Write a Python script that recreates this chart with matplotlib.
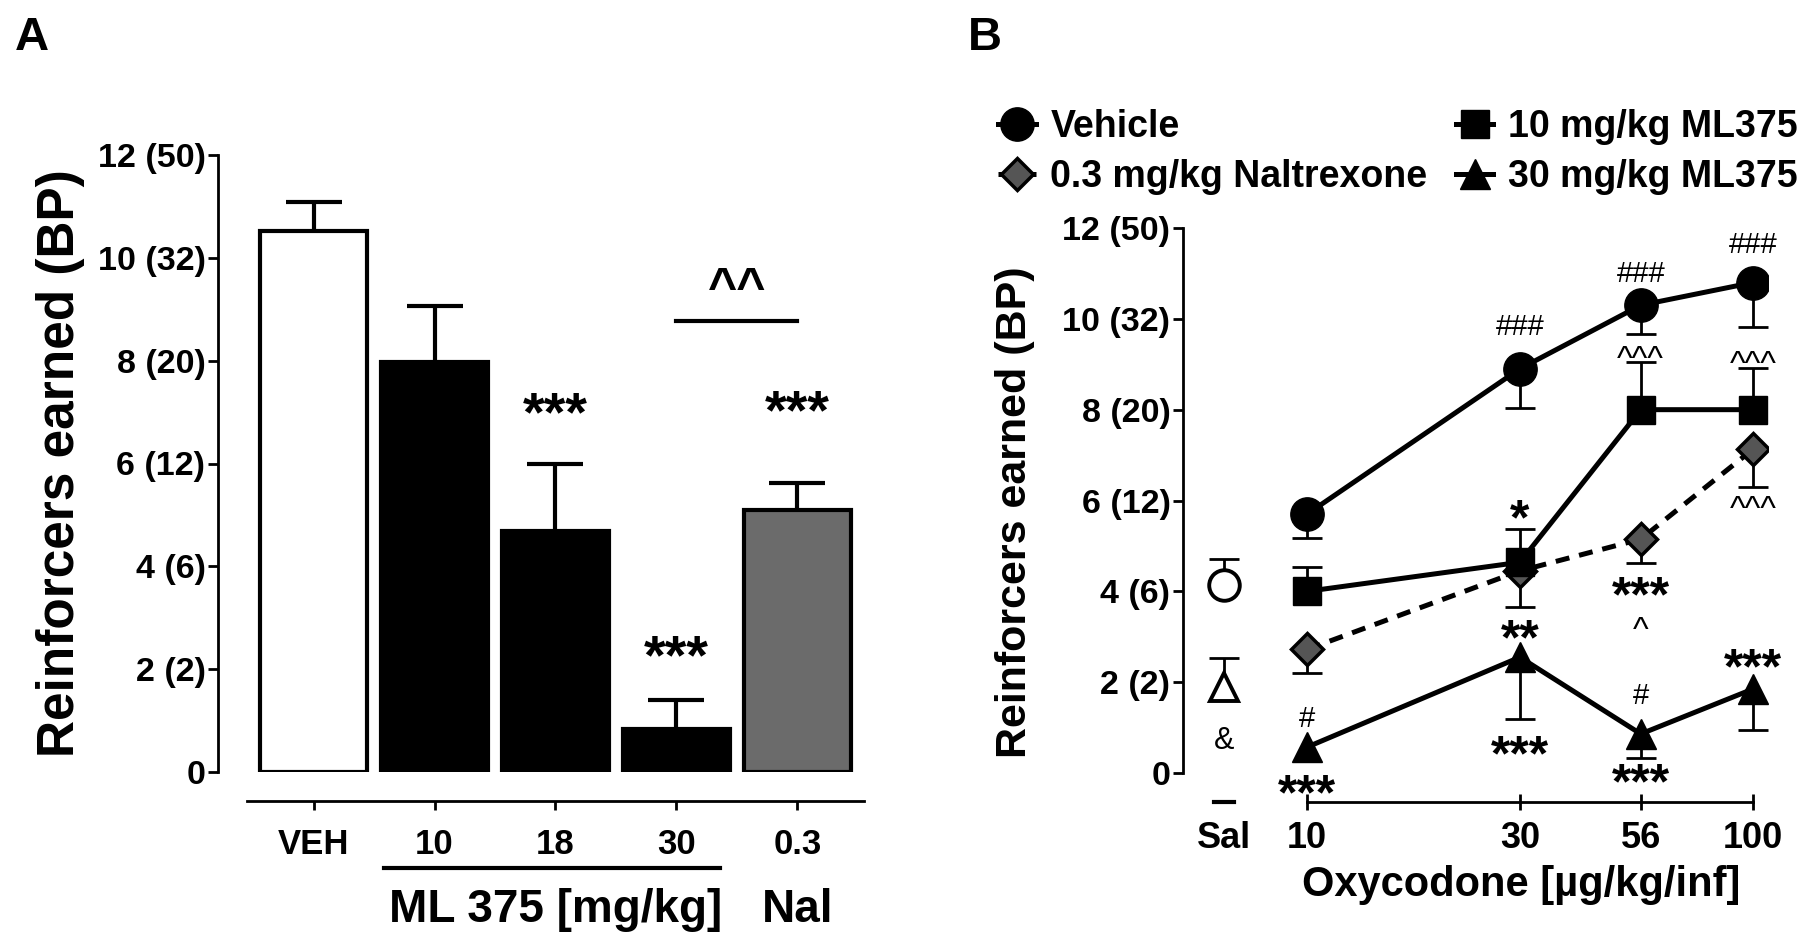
import numpy as np
import matplotlib
matplotlib.use('Agg')
import matplotlib.pyplot as plt

plt.rcParams['font.family'] = ['Liberation Sans', 'DejaVu Sans']
plt.rcParams['font.weight'] = 'bold'
plt.rcParams['axes.labelweight'] = 'bold'

# ---- panel A data: reinforcers earned, oxycodone self-admin after pretreatment
groups = ['VEH', '10', '18', '30', '0.3']
bar_mean = [10.53, 7.98, 4.68, 0.84, 5.10]
bar_sem = [0.56, 1.09, 1.32, 0.56, 0.52]
bar_face = ['white', 'black', 'black', 'black', '#6b6b6b']

ytick_vals = [0, 2, 4, 6, 8, 10, 12]
ytick_text = ['0', '2 (2)', '4 (6)', '6 (12)', '8 (20)', '10 (32)', '12 (50)']

# ---- panel B data: dose response
oxy_dose = [10, 30, 56, 100]
sal_x = 6.5
veh_mean = [5.70, 8.90, 10.30, 10.80]
veh_sem = [0.52, 0.87, 0.63, 0.99]
ml10_mean = [4.00, 4.64, 8.00, 8.00]
ml10_sem = [0.53, 0.74, 1.06, 0.91]
nal_mean = [2.72, 4.45, 5.15, 7.13]
nal_sem = [0.52, 0.80, 0.53, 0.84]
ml30_mean = [0.57, 2.55, 0.86, 1.85]
ml30_sem = [0.0, 1.35, 0.53, 0.90]
sal_veh_mean, sal_veh_sem = 4.14, 0.58
sal_ml30_mean, sal_ml30_sem = 1.89, 0.65

# ink centre of the glyph above the baseline, in em
LIFT = {'*': 0.45, '#': 0.35, '^': 0.53, '&': 0.36}


def sem_bars(ax, x, y, err, sign, cap, lw):
    # one sided error bars (only up or only down), like prism draws them
    x = np.asarray(x, float)
    y = np.asarray(y, float)
    err = np.asarray(err, float)
    keep = err > 0
    ends = y + sign * err
    ax.vlines(x[keep], y[keep], ends[keep], colors='k', lw=lw, zorder=1)
    ax.plot(x[keep], ends[keep], ls='none', marker='_', ms=cap, mew=lw,
            color='k', zorder=1)


def mark(ax, x, y, s, size, weight='bold'):
    ax.annotate(s, (x, y), xytext=(0, -LIFT[s[0]] * size),
                textcoords='offset points', ha='center', va='baseline',
                fontsize=size, fontweight=weight, annotation_clip=False)


def style_axis(ax, spine_y):
    ax.spines['top'].set_visible(False)
    ax.spines['right'].set_visible(False)
    ax.spines['left'].set_linewidth(2)
    ax.spines['bottom'].set_linewidth(2)
    ax.spines['bottom'].set_position(('data', spine_y))
    ax.set_ylim(0, 12)
    ax.set_yticks(ytick_vals)
    ax.set_yticklabels(ytick_text)
    ax.tick_params(axis='y', direction='out', length=7, width=2, pad=2,
                   labelsize=24.5)


fig = plt.figure(figsize=(18, 9.4), dpi=100)

# ================= A =================
axA = fig.add_axes([218 / 1800, 1 - 772 / 940, 652 / 1800, 617 / 940])
xa = np.arange(len(groups))
axA.bar(xa, bar_mean, width=0.89, color=bar_face, edgecolor='black',
        linewidth=3, zorder=2)
sem_bars(axA, xa, bar_mean, bar_sem, +1, cap=40, lw=3)
axA.set_xlim(-0.79, 4.6)
style_axis(axA, -0.57)
axA.spines['bottom'].set_bounds(-0.554, 4.554)
axA.set_xticks(xa)
axA.set_xticklabels(groups)
axA.tick_params(axis='x', direction='out', length=6.5, width=2, pad=13,
                labelsize=25)
axA.set_ylabel('Reinforcers earned (BP)', fontsize=37)
axA.yaxis.set_label_coords(-0.204, 0.5)

a_stars = [(2, 7.13), (3, 2.40), (4, 7.17)]
for i, y in a_stars:
    mark(axA, xa[i], y, '***', 40)
axA.plot([xa[3], xa[4]], [8.78, 8.78], color='k', lw=3, clip_on=False)
mark(axA, (xa[3] + xa[4]) / 2, 9.63, '^^', 36)

tr = axA.get_xaxis_transform()
axA.plot([xa[1] - 0.42, xa[3] + 0.36], [-0.156, -0.156], color='k', lw=3,
         transform=tr, clip_on=False)
axA.text(xa[2], -0.224, 'ML 375 [mg/kg]', transform=tr, ha='center',
         va='center', fontsize=33)
axA.text(xa[4], -0.224, 'Nal', transform=tr, ha='center', va='center',
         fontsize=33)

# ================= B =================
axB = fig.add_axes([1183 / 1800, 1 - 773 / 940, 585 / 1800, 545 / 940])
axB.set_xscale('log')
lw_line = 3.6
l_veh, = axB.plot(oxy_dose, veh_mean, '-o', color='k', lw=lw_line, ms=24,
                  zorder=3, label='Vehicle')
l_nal, = axB.plot(oxy_dose, nal_mean, marker='D', color='k', lw=lw_line,
                  ls=(0, (2.8, 2)), ms=16, mfc='#555555', mec='k', mew=2.5,
                  zorder=3, label='0.3 mg/kg Naltrexone')
l_m10, = axB.plot(oxy_dose, ml10_mean, '-s', color='k', lw=lw_line, ms=20,
                  zorder=4, label='10 mg/kg ML375')
l_m30, = axB.plot(oxy_dose, ml30_mean, '-^', color='k', lw=lw_line, ms=21,
                  zorder=4, label='30 mg/kg ML375')

sem_bars(axB, oxy_dose, veh_mean, veh_sem, -1, cap=22, lw=2)
sem_bars(axB, oxy_dose, ml10_mean, ml10_sem, +1, cap=22, lw=2)
sem_bars(axB, oxy_dose, nal_mean, nal_sem, -1, cap=22, lw=2)
sem_bars(axB, oxy_dose, ml30_mean, ml30_sem, -1, cap=22, lw=2)

# saline points
axB.plot([sal_x], [sal_veh_mean], 'o', ms=22, mfc='white', mec='k', mew=2.8,
         zorder=3)
axB.plot([sal_x], [sal_ml30_mean], '^', ms=20, mfc='white', mec='k', mew=2.8,
         zorder=3)
sem_bars(axB, [sal_x, sal_x], [sal_veh_mean, sal_ml30_mean],
         [sal_veh_sem, sal_ml30_sem], +1, cap=22, lw=2)

axB.set_xlim(5.27, 108)
style_axis(axB, -0.64)
axB.spines['bottom'].set_bounds(10, 100)
axB.xaxis.set_minor_locator(matplotlib.ticker.NullLocator())
axB.set_xticks([sal_x] + oxy_dose)
axB.set_xticklabels(['Sal'] + [str(d) for d in oxy_dose])
axB.tick_params(axis='x', direction='inout', length=11, width=2, pad=8,
                labelsize=26)
axB.xaxis.get_major_ticks()[0].tick1line.set_visible(False)
axB.plot([sal_x / 1.053, sal_x * 1.053], [-0.64, -0.64], color='k', lw=3,
         clip_on=False)
axB.set_ylabel('Reinforcers earned (BP)', fontsize=31)
axB.yaxis.set_label_coords(-0.253, 0.479)
axB.set_xlabel('Oxycodone [\u00b5g/kg/inf]', fontsize=30)
axB.xaxis.set_label_coords(0.578, -0.169)

# significance marks
hash_marks = [(30, 9.87, '###'), (56, 11.04, '###'), (100, 11.67, '###'),
              (10, 1.24, '#'), (56, 1.75, '#')]
caret_marks = [(56, 9.28, '^^^'), (100, 9.17, '^^^'), (100, 5.98, '^^^'),
               (56, 3.32, '^')]
star_marks = [(30, 5.76, '*'), (56, 4.05, '***'), (10, -0.30, '***'),
              (30, 3.10, '**'), (30, 0.55, '***'), (56, -0.07, '***'),
              (100, 2.48, '***')]
for x, y, s in hash_marks:
    mark(axB, x, y, s, 21, 'normal')
for x, y, s in caret_marks:
    mark(axB, x, y, s, 24, 'normal')
for x, y, s in star_marks:
    mark(axB, x, y, s, 36)
mark(axB, sal_x, 0.76, '&', 22, 'normal')

fig.legend(handles=[l_veh, l_nal, l_m10, l_m30], ncol=2, loc='upper left',
           bbox_to_anchor=(998 / 1800, 1 - 109 / 940), frameon=False,
           fontsize=27, handlelength=1.0, handletextpad=0.4,
           columnspacing=0.75, labelspacing=0.38, borderpad=0,
           borderaxespad=0)

fig.text(32 / 1800, 1 - 38 / 940, 'A', fontsize=34, ha='center', va='center')
fig.text(985 / 1800, 1 - 38 / 940, 'B', fontsize=34, ha='center', va='center')

fig.savefig('out.png', dpi=100)
